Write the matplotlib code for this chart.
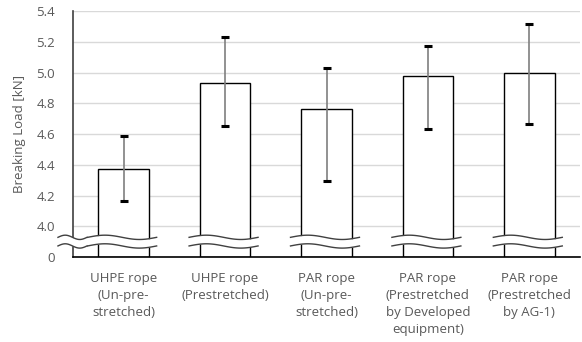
import numpy as np
import matplotlib.pyplot as plt

plt.rcParams['font.family'] = ['Open Sans', 'DejaVu Sans']

# data
categories = ['UHPE rope\n(Un-pre-\nstretched)', 'UHPE rope\n(Prestretched)',
              'PAR rope\n(Un-pre-\nstretched)', 'PAR rope\n(Prestretched\nby Developed\nequipment)',
              'PAR rope\n(Prestretched\nby AG-1)']
loads = [4.37, 4.935, 4.762, 4.977, 4.996]
err_high = [4.59, 5.23, 5.031, 5.174, 5.313]
err_low = [4.167, 4.649, 4.292, 4.633, 4.666]
yticks = [3.8, 4.0, 4.2, 4.4, 4.6, 4.8, 5.0, 5.2, 5.4]
ytick_labels = ['0', '4.0', '4.2', '4.4', '4.6', '4.8', '5.0', '5.2', '5.4']

base = 3.8
gray = '#595959'

fig = plt.figure(figsize=(5.82, 3.42), dpi=100)
ax = fig.add_axes([0.1254, 0.2485, 0.8712, 0.7193])

x = np.arange(len(categories))
heights = np.array(loads) - base
ax.bar(x, heights, bottom=base, width=0.5, color='white', edgecolor='black',
       linewidth=1.0, zorder=2)

lower = np.array(loads) - np.array(err_low)
upper = np.array(err_high) - np.array(loads)
eb = ax.errorbar(x, loads, yerr=[lower, upper], fmt='none', ecolor='#7f7f7f',
                 elinewidth=1.2, capsize=3.2, capthick=2.2, zorder=3)
for cap in eb[1]:
    cap.set_markeredgecolor('black')
    cap.set_markerfacecolor('black')
    cap.set_zorder(4)

ax.set_xlim(-0.5, 4.5)
ax.set_ylim(base, 5.4)
ax.set_yticks(yticks)
ax.set_yticklabels(ytick_labels)
ax.set_xticks(x)
ax.set_xticklabels(categories, linespacing=1.38)
ax.tick_params(axis='both', length=0, colors=gray, labelsize=9.5)
ax.tick_params(axis='y', pad=13)
ax.tick_params(axis='x', pad=11)

ax.grid(axis='y', color='#d9d9d9', linewidth=1.0, zorder=0)
ax.set_axisbelow(True)
for s in ['top', 'right']:
    ax.spines[s].set_visible(False)
ax.spines['left'].set_color('#404040')
ax.spines['bottom'].set_color('black')
ax.spines['bottom'].set_linewidth(1.2)
ax.spines['left'].set_linewidth(1.2)
ax.spines['bottom'].set_zorder(4)

ax.set_ylabel('Breaking Load [kN]', color=gray, fontsize=9.5, labelpad=7)


# wavy break marks
def wave(x0, x1, clip=True):
    t = np.linspace(0, 1, 60)
    xx = x0 + (x1 - x0) * t
    amp = 0.014
    y_top = 3.928 + amp * np.sin(2 * np.pi * t)
    y_bot = 3.872 + amp * np.sin(2 * np.pi * t)
    ax.fill_between(xx, y_bot, y_top, color='white', zorder=5, clip_on=clip, linewidth=0)
    ax.plot(xx, y_top, color='#404040', linewidth=1.0, zorder=6, clip_on=clip)
    ax.plot(xx, y_bot, color='#404040', linewidth=1.0, zorder=6, clip_on=clip)


for xi in x:
    wave(xi - 0.355, xi + 0.325)
wave(-0.648, -0.362, clip=False)

fig.savefig('out.png', dpi=100)
